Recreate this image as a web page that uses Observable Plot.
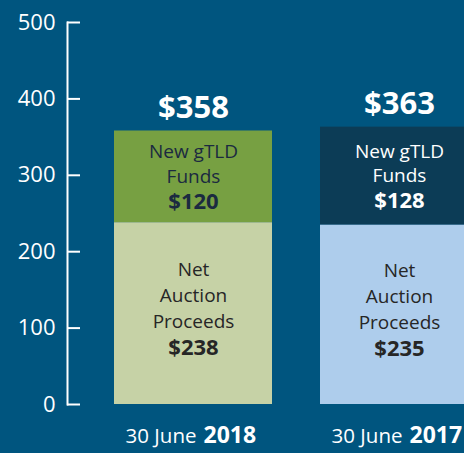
<!DOCTYPE html>
<html>
<head>
<meta charset="utf-8">
<script src="https://cdn.jsdelivr.net/npm/d3@7"></script>
<script src="https://cdn.jsdelivr.net/npm/@observablehq/plot@0.6"></script>
<style>
  html, body { margin: 0; padding: 0; background: #00557f; overflow: hidden; }
  #chart { width: 464px; height: 453px; overflow: hidden; }
</style>
</head>
<body>
<div id="chart"></div>
<script>
// Data
const years = ["2018", "2017"];
const totals = [358, 363];
const gtldFunds = [120, 128];
const auctionProceeds = [238, 235];
const gtldLabel = "New gTLD\nFunds";
const auctionLabel = "Net\nAuction\nProceeds";
const datePrefix = "30 June";
const yTicks = [0, 100, 200, 300, 400, 500];

// Styles
const segColors = {
  "2018-auction": "#c6d2a6", "2018-gtld": "#77a042",
  "2017-auction": "#aecdec", "2017-gtld": "#0c3c56"
};
const textColors = {
  "2018-auction": "#262626", "2018-gtld": "#1b2a40",
  "2017-auction": "#262626", "2017-gtld": "#ffffff"
};
const FONT = "'Open Sans', sans-serif";

const rows = years.flatMap((yr, i) => [
  {year: yr, key: yr + "-auction", seg: "auction", value: auctionProceeds[i], label: auctionLabel},
  {year: yr, key: yr + "-gtld", seg: "gtld", value: gtldFunds[i], label: gtldLabel}
]);
const totalRows = years.map((yr, i) => ({year: yr, total: totals[i]}));

const segText = (seg, fn) => d => d.seg === seg ? fn(d) : "";

const chart = Plot.plot({
  width: 464,
  height: 453,
  marginTop: 22,
  marginBottom: 49,
  marginLeft: 67,
  marginRight: 0,
  style: {background: "#00557f", fontFamily: FONT, color: "white", overflow: "hidden"},
  x: {domain: years, range: [90, 502], paddingInner: 0.233, paddingOuter: 0.1165, axis: null},
  y: {domain: [0, 500], label: null},
  color: {type: "identity"},
  marks: [
    Plot.barY(rows, Plot.stackY({x: "year", y: "value", fill: d => segColors[d.key]})),
    Plot.frame({anchor: "left", stroke: "white", strokeWidth: 2}),
    Plot.axisY({ticks: yTicks, tickSize: -13, tickPadding: 25, fontSize: 22, color: "white", strokeWidth: 2, label: null}),
    // segment labels
    Plot.text(rows, Plot.stackY({
      x: "year", y: "value", text: segText("gtld", d => d.label), fill: d => textColors[d.key],
      fontSize: 19, lineHeight: 1.3, dy: -14
    })),
    Plot.text(rows, Plot.stackY({
      x: "year", y: "value", text: segText("gtld", d => "$" + d.value), fill: d => textColors[d.key],
      fontSize: 22, fontWeight: "bold", dy: 25
    })),
    Plot.text(rows, Plot.stackY({
      x: "year", y: "value", text: segText("auction", d => d.label), fill: d => textColors[d.key],
      fontSize: 19, lineHeight: 1.38, dy: -20
    })),
    Plot.text(rows, Plot.stackY({
      x: "year", y: "value", text: segText("auction", d => "$" + d.value), fill: d => textColors[d.key],
      fontSize: 22, fontWeight: "bold", dy: 34
    })),
    // totals
    Plot.text(totalRows, {x: "year", y: "total", text: d => "$" + d.total, fill: "white", fontSize: 31, fontWeight: "bold", dy: -23}),
    // date labels
    Plot.text(years, {x: d => d, text: () => datePrefix, frameAnchor: "bottom", textAnchor: "end", dx: 3, dy: 38, fill: "white", fontSize: 20.5}),
    Plot.text(years, {x: d => d, text: d => d, frameAnchor: "bottom", textAnchor: "start", dx: 10, dy: 38, fill: "white", fontSize: 23, fontWeight: "bold"})
  ]
});
document.getElementById("chart").appendChild(chart);
</script>
</body>
</html>
